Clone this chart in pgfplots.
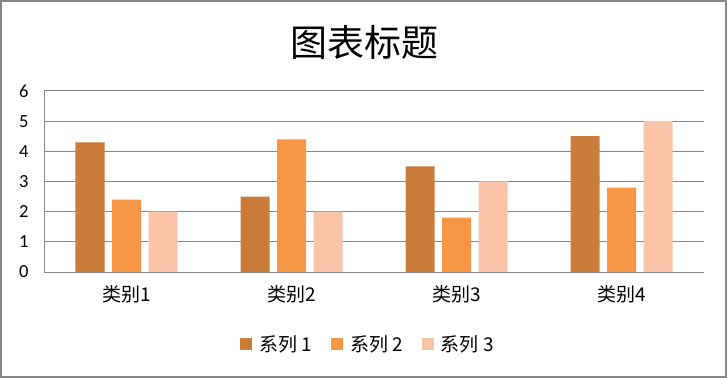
\documentclass[border=0pt]{standalone}
\usepackage{fontspec}
\setmainfont{Carlito}
\newfontfamily\cjk{Noto Sans CJK SC}
\usepackage{pgfplots}
\pgfplotsset{compat=1.18}
\definecolor{sA}{HTML}{CB7B3A}
\definecolor{sB}{HTML}{F79646}
\definecolor{sC}{HTML}{F9C4A8}
\definecolor{gridc}{HTML}{878787}
\begin{document}
\begin{tikzpicture}
\useasboundingbox (0,0) rectangle (727bp,378bp);
\draw[gridc, line width=2bp] (1bp,1bp) rectangle (726bp,377bp);
\node[font=\cjk\fontsize{37bp}{42bp}\selectfont, anchor=center] at (364bp,336bp) {图表标题};
\begin{axis}[
  at={(44bp,106bp)}, anchor=south west,
  width=660bp, height=181bp, scale only axis,
  ybar=7.5bp, bar width=29bp,
  xmin=-0.5, xmax=3.5, ymin=0, ymax=6,
  xtick=data, xticklabels={类别1,类别2,类别3,类别4},
  ytick={0,1,2,3,4,5,6},
  ymajorgrids, grid style={gridc, line width=1bp},
  axis x line*=bottom, axis y line*=left,
  axis line style={gridc, line width=1bp},
  major tick length=0pt,
  /pgf/number format/assume math mode=true,
  ticklabel style={font=\fontsize{18.5bp}{21bp}\selectfont, text=black},
  xticklabel style={font=\cjk\fontsize{19bp}{22bp}\selectfont, yshift=-10bp},
  yticklabel style={xshift=-12bp},
  legend columns=3,
  legend style={at={(0.491,-0.40)}, anchor=center, draw=none, fill=none,
    font=\cjk\fontsize{19bp}{22bp}\selectfont,
    /tikz/every even column/.append style={column sep=17bp}},
  legend image code/.code={\fill[#1] (0bp,-6bp) rectangle (12bp,6bp); \path (17bp,0bp);},
]
\addplot[fill=sA, draw=none] coordinates {(0,4.3) (1,2.5) (2,3.5) (3,4.5)};
\addplot[fill=sB, draw=none] coordinates {(0,2.4) (1,4.4) (2,1.8) (3,2.8)};
\addplot[fill=sC, draw=none] coordinates {(0,2.0) (1,2.0) (2,3.0) (3,5.0)};
\legend{系列 1,系列 2,系列 3}
\end{axis}
\end{tikzpicture}
\end{document}
